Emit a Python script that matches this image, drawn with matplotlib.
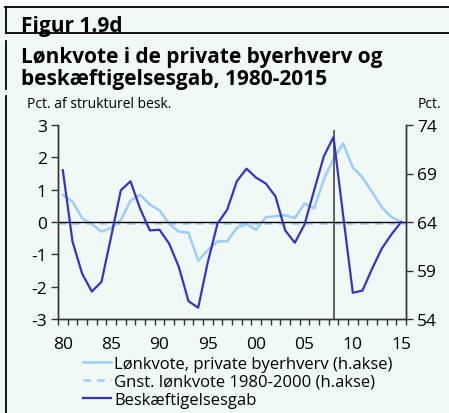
import numpy as np
import matplotlib
matplotlib.use("Agg")
import matplotlib.pyplot as plt
from matplotlib.lines import Line2D

plt.rcParams['font.family'] = ['Open Sans', 'DejaVu Sans']
plt.rcParams['axes.unicode_minus'] = False

# ======================
# Data
# ======================
years = np.arange(1980, 2016)

# Beskæftigelsesgab, pct. af strukturel beskæftigelse (left axis)
gab = [1.6, -0.6, -1.6, -2.15, -1.85, -0.45, 0.98, 1.26, 0.41, -0.26,
       -0.24, -0.67, -1.39, -2.45, -2.65, -1.24, -0.05, 0.38, 1.26, 1.65,
       1.37, 1.19, 0.79, -0.26, -0.64, -0.08, 0.98, 2.03, 2.63, 0.2,
       -2.19, -2.12, -1.44, -0.82, -0.38, 0.0]

# Lønkvote, private byerhverv, pct. (right axis)
loenkvote = [66.8, 66.1, 64.4, 63.8, 63.0, 63.4, 64.2, 66.2, 66.8, 65.8,
             65.2, 63.8, 63.0, 62.9, 60.0, 61.1, 62.0, 62.0, 63.4, 63.8,
             63.2, 64.5, 64.6, 64.7, 64.4, 65.9, 65.4, 68.4, 70.5, 72.1,
             69.6, 68.6, 67.1, 65.5, 64.5, 64.0]

gnst_1980_2000 = 63.85
krise_aar = 2008

dark_blue = "#3434c8"
light_blue = "#9dcdfb"
bg = "#f1f9f6"

fig = plt.figure(figsize=(4.49, 4.14), dpi=100, facecolor=bg)
ax = fig.add_axes([58 / 449, 1 - 320 / 414, 348 / 449, 194 / 414], facecolor=bg)
ax2 = ax.twinx()

# ======================
# Lines
# ======================
ax.axhline(0, color="black", lw=1.0, zorder=2)
ax.plot([krise_aar, krise_aar], [-3, 2.8], color="#555555", lw=1.3, zorder=2)
ax2.plot(years, loenkvote, color=light_blue, lw=1.8, zorder=3)
ax2.axhline(gnst_1980_2000, color=light_blue, lw=1.8, ls=(0, (3, 2.5)), zorder=3)
ax.plot(years, gab, color=dark_blue, lw=1.6, zorder=4)
ax.set_zorder(ax2.get_zorder() + 1)
ax.patch.set_visible(False)
ax2.patch.set_visible(True)
ax2.patch.set_facecolor(bg)

# ======================
# Axes
# ======================
ax.set_xlim(1979.5, 2015.5)
ax.set_ylim(-3, 3)
ax2.set_ylim(54, 74)
ax.set_yticks([-3, -2, -1, 0, 1, 2, 3])
ax2.set_yticks([54, 59, 64, 69, 74])
ax.set_xticks(np.arange(1980, 2016, 5))
ax.set_xticklabels(["80", "85", "90", "95", "00", "05", "10", "15"])
ax.set_xticks(np.arange(1979.5, 2016, 1), minor=True)
ax.tick_params(axis="x", which="major", length=0, labelsize=12.5, pad=12)
ax.tick_params(axis="x", which="minor", length=4, width=1, color="#333333",
               direction="out")
ax.tick_params(axis="y", length=5, width=1, color="#333333", labelsize=12.5, pad=3)
ax2.tick_params(axis="y", length=5, width=1, color="#333333", labelsize=12.5, pad=3)

for a in (ax, ax2):
    a.spines["top"].set_visible(False)
    for s in ("left", "right", "bottom"):
        a.spines[s].set_color("#333333")
        a.spines[s].set_linewidth(1.0)

# ======================
# Texts and frame
# ======================
fig.patches.append(plt.Rectangle((0, 1 - 8 / 414), 1, 8 / 414, transform=fig.transFigure,
                                 facecolor="white", edgecolor="none", zorder=0))
fig.add_artist(Line2D([5 / 449, 1], [1 - 8 / 414] * 2, color="black", lw=1.3))
fig.add_artist(Line2D([6 / 449, 1], [1 - 34 / 414] * 2, color="black", lw=1.3))
for y0, y1 in [(8, 34), (42, 90), (97, 414)]:
    fig.add_artist(Line2D([6 / 449] * 2, [1 - y0 / 414, 1 - y1 / 414], color="black", lw=1.3))

fig.text(21 / 449, 1 - 32 / 414, "Figur 1.9d", fontsize=15, fontweight="bold", va="baseline")
fig.text(21 / 449, 1 - 63 / 414, "Lønkvote i de private byerhverv og", fontsize=15,
         fontweight="bold", va="baseline")
fig.text(21 / 449, 1 - 85 / 414, "beskæftigelsesgab, 1980-2015", fontsize=15,
         fontweight="bold", va="baseline")
fig.text(27 / 449, 1 - 104 / 414, "Pct. af strukturel besk.", fontsize=10, va="center")
fig.text(441 / 449, 1 - 104 / 414, "Pct.", fontsize=10, va="center", ha="right")

handles = [Line2D([], [], color=light_blue, lw=1.8),
           Line2D([], [], color=light_blue, lw=1.8, ls=(0, (3, 2.5))),
           Line2D([], [], color=dark_blue, lw=1.6)]
labels = ["Lønkvote, private byerhverv (h.akse)",
          "Gnst. lønkvote 1980-2000 (h.akse)",
          "Beskæftigelsesgab"]
fig.legend(handles, labels, loc="upper left", bbox_to_anchor=(76 / 449, 1 - 350 / 414),
           frameon=False, fontsize=12, handlelength=1.7, handletextpad=0.2,
           labelspacing=0.12, borderaxespad=0)

fig.savefig("out.png", dpi=100, facecolor=bg)
